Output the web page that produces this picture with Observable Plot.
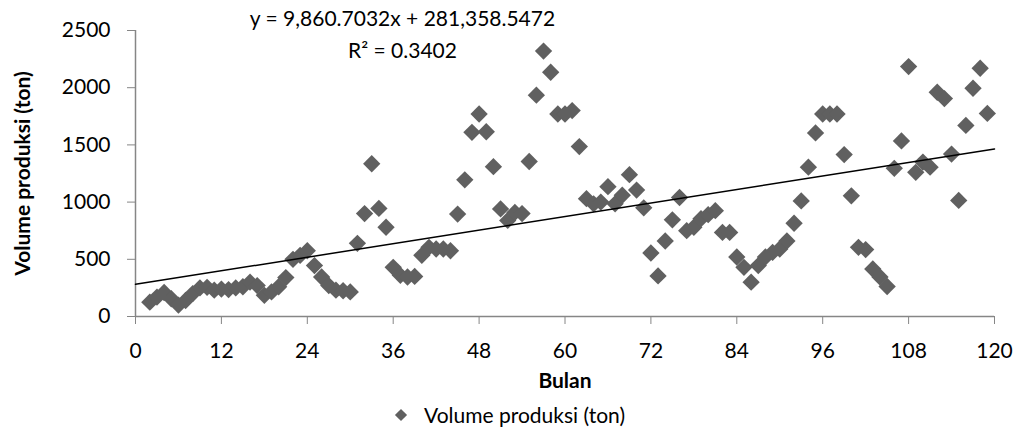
<!DOCTYPE html>
<html>
<head>
<meta charset="utf-8">
<script src="https://cdn.jsdelivr.net/npm/d3@7"></script>
<script src="https://cdn.jsdelivr.net/npm/@observablehq/plot@0.6"></script>
<style>
  html, body { margin: 0; padding: 0; background: #fff; }
  body { width: 1018px; height: 434px; overflow: hidden; font-family: Lato, "Open Sans", sans-serif; }
  #legend { position: relative; height: 34px; }
  #legend .item { position: absolute; left: 392px; top: 2px; display: flex; align-items: center; gap: 14px; font-size: 21px; color: #000; }
</style>
</head>
<body>
<div id="chart"></div>
<div id="legend"></div>
<script>
// ---- data ----
const months = [2,3,4,5,6,7,8,9,10,11,12,13,14,15,16,17,18,19,20,21,22,23,24,25,26,27,28,29,30,
  31,32,33,34,35,36,37,38,39,40,41,42,43,44,45,46,47,48,49,50,51,52,53,54,55,56,57,58,59,60,
  61,62,63,64,65,66,67,68,69,70,71,72,73,74,75,76,77,78,79,80,81,82,83,84,85,86,87,88,89,90,
  91,92,93,94,95,96,97,98,99,100,101,102,103,104,105,106,107,108,109,110,111,112,113,114,115,116,117,118,119];
const volume = [125,170,210,155,100,140,200,250,255,230,240,235,250,260,300,270,185,215,260,340,500,535,575,445,345,270,230,225,215,
  640,900,1335,945,780,430,360,345,350,535,605,590,590,575,895,1195,1610,1770,1615,1310,940,840,910,900,1355,1935,2320,2135,1770,1770,
  1800,1485,1030,985,1000,1135,985,1060,1240,1105,950,555,355,660,845,1040,750,780,855,890,925,735,735,520,430,300,445,520,560,590,
  660,815,1010,1305,1605,1770,1770,1770,1415,1055,605,585,415,345,262,1295,1535,2185,1260,1350,1305,1960,1905,1420,1015,1670,1995,2170,1775];
const xTicks = [0,12,24,36,48,60,72,84,96,108,120];
const yTicks = [0,500,1000,1500,2000,2500];
const trendSlopeKg = 9860.7032;       // from the trendline equation (kg)
const trendInterceptKg = 281358.5472; // from the trendline equation (kg)
const equationText = "y = 9,860.7032x + 281,358.5472";
const r2Text = "R² = 0.3402";
const xLabel = "Bulan";
const yLabel = "Volume produksi (ton)";
const seriesName = "Volume produksi (ton)";

const points = months.map((m, i) => ({month: m, volume: volume[i]}));
const trendX = [xTicks[0], xTicks[xTicks.length - 1]];
const trend = (x) => (trendInterceptKg + trendSlopeKg * x) / 1000;

const FONT = "Lato, 'Open Sans', sans-serif";
const AXIS = "#868686";
const MARK = "#606060";

const chart = Plot.plot({
  width: 1018,
  height: 400,
  marginLeft: 135,
  marginRight: 24,
  marginTop: 30,
  marginBottom: 84,
  style: {fontFamily: FONT, color: "#000", background: "#fff", overflow: "visible"},
  x: {domain: [0, 120]},
  y: {domain: [0, 2500]},
  marks: [
    Plot.axisX({ticks: xTicks, tickFormat: d => String(d), tickSize: 8, tickPadding: 19, fontSize: 21, stroke: AXIS, fill: "#000", label: null}),
    Plot.axisY({ticks: yTicks, tickFormat: d => String(d), tickSize: 8, tickPadding: 17, fontSize: 21, stroke: AXIS, fill: "#000", label: null}),
    Plot.ruleY([0], {stroke: AXIS, strokeWidth: 1.5}),
    Plot.ruleX([0], {stroke: AXIS, strokeWidth: 1.5}),
    Plot.dot(points, {x: "month", y: "volume", symbol: "diamond2", r: 7.8, fill: MARK, stroke: "none"}),
    Plot.line(trendX, {x: d => d, y: d => trend(d), stroke: "#000", strokeWidth: 1.5}),
    Plot.text([equationText], {frameAnchor: "top-left", dx: 267, dy: -11, fontSize: 21, fill: "#000", textAnchor: "middle", lineAnchor: "middle"}),
    Plot.text([r2Text], {frameAnchor: "top-left", dx: 267, dy: 21, fontSize: 21, fill: "#000", textAnchor: "middle", lineAnchor: "middle"}),
    Plot.text([xLabel], {frameAnchor: "bottom", dy: 65, fontSize: 21, fontWeight: "bold", fill: "#000", textAnchor: "middle", lineAnchor: "middle"}),
    Plot.text([yLabel], {frameAnchor: "left", dx: -112, rotate: -90, fontSize: 21, fontWeight: "bold", fill: "#000", textAnchor: "middle", lineAnchor: "middle"})
  ]
});
document.getElementById("chart").appendChild(chart);

const legend = d3.select("#legend").append("div").attr("class", "item");
legend.append("svg").attr("width", 18).attr("height", 18)
  .append("path").attr("d", d3.symbol(d3.symbolDiamond2, 95)()).attr("transform", "translate(9,9)").attr("fill", MARK);
legend.append("span").text(seriesName);
</script>
</body>
</html>
